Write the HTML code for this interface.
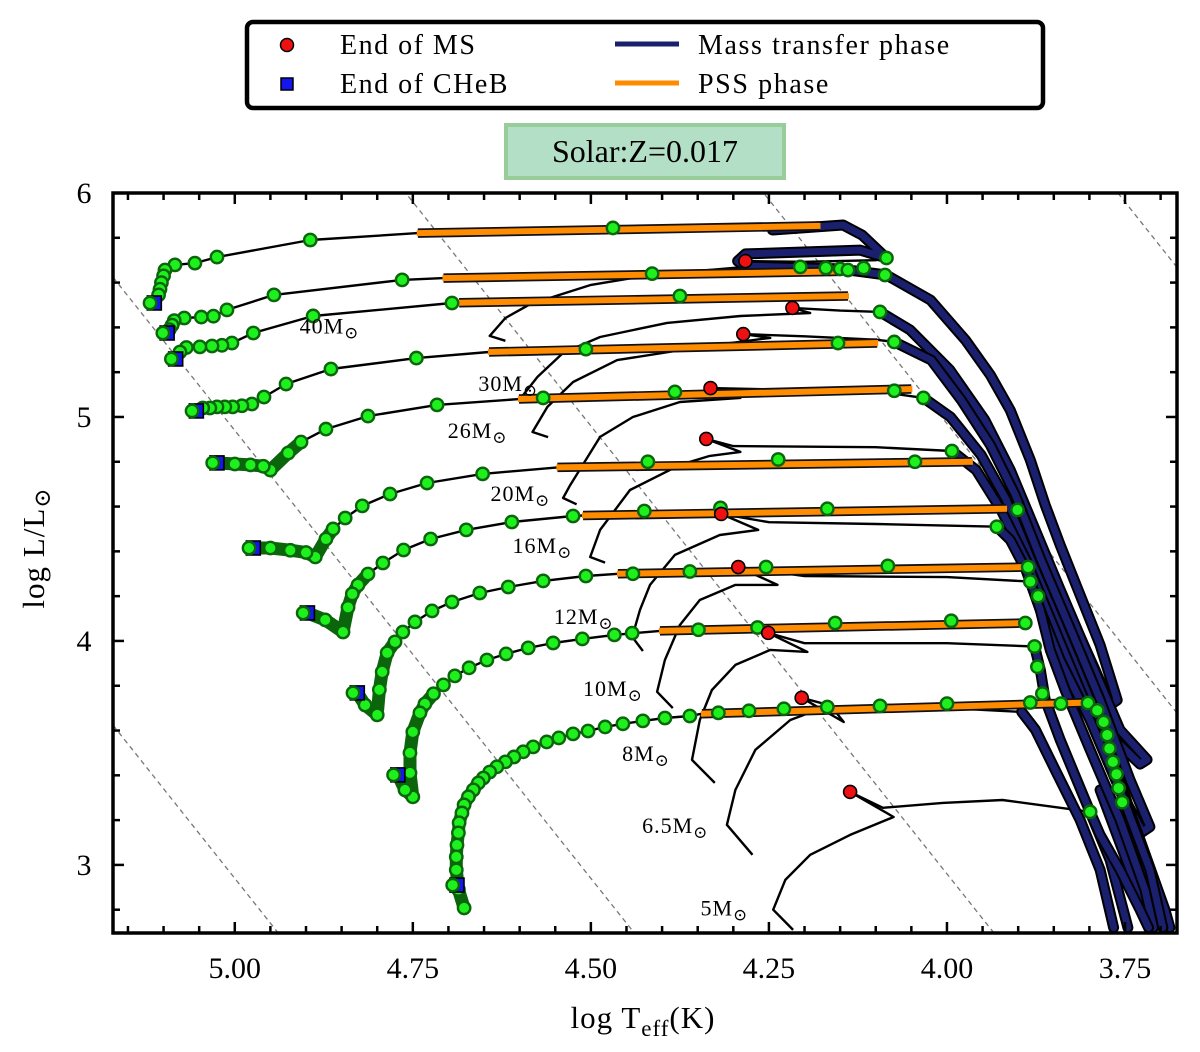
<!DOCTYPE html>
<html><head><meta charset="utf-8"><style>
html,body{margin:0;padding:0;background:#fff;overflow:hidden;width:1200px;height:1052px;}
svg{display:block;font-family:"Liberation Serif","DejaVu Serif",serif;}
</style></head><body>
<svg id="chart" width="1200" height="1052" viewBox="0 0 1200 1052" xmlns="http://www.w3.org/2000/svg">
<defs><clipPath id="clip"><rect x="113" y="193" width="1064" height="740"/></clipPath></defs>
<g id="legend">
<rect x="247" y="22" width="796" height="86" rx="6" fill="#fff" stroke="#000" stroke-width="4.5"/>
<g><circle cx="287" cy="45" r="6.5" fill="#ee1111" stroke="#000" stroke-width="1.5"/><text x="340" y="54" font-size="28" letter-spacing="1.5">End of MS</text></g>
<g><rect x="281" y="78" width="12" height="12" fill="#1515ee" stroke="#000" stroke-width="1.5"/><text x="340" y="93" font-size="28" letter-spacing="1.5">End of CHeB</text></g>
<g><line x1="615" y1="44" x2="679" y2="44" stroke="#1a1f6e" stroke-width="5"/><text x="698" y="54" font-size="28" letter-spacing="1.6">Mass transfer phase</text></g>
<g><line x1="615" y1="83" x2="679" y2="83" stroke="#ff8c00" stroke-width="5"/><text x="698" y="93" font-size="28" letter-spacing="1.6">PSS phase</text></g>
</g>
<g>
<rect x="506" y="125" width="278" height="53" fill="#b3dfc6" stroke="#98cc98" stroke-width="4"/>
<text x="645" y="162" font-size="32" text-anchor="middle">Solar:Z=0.017</text></g>
<g id="plot" clip-path="url(#clip)"></g>
<rect x="113" y="193" width="1064" height="740" fill="none" stroke="#000" stroke-width="3.5"/>
<g id="axes"></g>
<text x="643" y="1028" font-size="31" text-anchor="middle" letter-spacing="1">log T<tspan font-size="23" dy="8">eff</tspan><tspan dy="-8">(K)</tspan></text>
<text transform="translate(44,548) rotate(-90)" font-size="31" text-anchor="middle" letter-spacing="1">log L/L<tspan font-size="23" dy="6">⊙</tspan></text>
</svg>
<script>
// ---- data (log Teff, log L) ----
const xTicks = [5.00, 4.75, 4.50, 4.25, 4.00, 3.75];
const xTickLabels = ["5.00","4.75","4.50","4.25","4.00","3.75"];
const yTicks = [6, 5, 4, 3];
const yTickLabels = ["6","5","4","3"];
const radiusLineOffsets = [-9.04, -11.03, -13.04, -15.06, -17.06];
const massNames = ["40M","30M","26M","20M","16M","12M","10M","8M","6.5M","5M"];
const labelPos = [[4.825,5.40],[4.574,5.143],[4.617,4.933],[4.557,4.652],[4.526,4.42],[4.468,4.103],[4.427,3.78],[4.389,3.49],[4.335,3.17],[4.279,2.80]];
const msTracks = [
 [[4.642,5.362],[4.620,5.442],[4.585,5.504],[4.501,5.589],[4.417,5.634],[4.248,5.679]],
 [[4.595,5.098],[4.575,5.179],[4.539,5.286],[4.487,5.357],[4.393,5.420],[4.290,5.451],[4.192,5.464]],
 [[4.582,4.933],[4.561,5.045],[4.525,5.156],[4.463,5.254],[4.346,5.313],[4.248,5.353]],
 [[4.539,4.638],[4.529,4.696],[4.487,4.911],[4.441,5.0],[4.375,5.067],[4.290,5.085]],
 [[4.501,4.375],[4.487,4.496],[4.445,4.674],[4.375,4.786],[4.333,4.826],[4.290,4.844]],
 [[4.442,4.018],[4.431,4.139],[4.417,4.25],[4.382,4.384],[4.319,4.473],[4.265,4.496]],
 [[4.407,3.773],[4.396,3.915],[4.375,4.071],[4.347,4.183],[4.297,4.250],[4.238,4.25]],
 [[4.358,3.469],[4.347,3.647],[4.330,3.781],[4.297,3.893],[4.248,3.96],[4.196,3.951]],
 [[4.309,3.179],[4.297,3.335],[4.269,3.514],[4.220,3.647],[4.164,3.714],[4.145,3.638]],
 [[4.244,2.80],[4.227,2.933],[4.192,3.045],[4.136,3.134],[4.075,3.214]]
];
const zamsTails = [[4.620,5.34],[4.570,5.07],[4.560,4.91],[4.520,4.61],[4.480,4.35],[4.427,3.955],[4.385,3.70],[4.326,3.366],[4.273,3.045],[4.216,2.71]];
const redDots = [[4.283,5.696],[4.217,5.487],[4.286,5.370],[4.332,5.129],[4.338,4.902],[4.317,4.567],[4.293,4.330],[4.251,4.036],[4.204,3.746],[4.136,3.326]];
const crossings = [
 [[4.283,5.696],[4.20,5.693],[4.10,5.70],[4.085,5.71]],
 [[4.217,5.487],[4.15,5.475],[4.094,5.469]],
 [[4.286,5.370],[4.20,5.36],[4.10,5.345],[4.074,5.335]],
 [[4.332,5.129],[4.20,5.12],[4.10,5.115],[4.033,5.085]],
 [[4.338,4.902],[4.30,4.87],[4.10,4.865],[3.993,4.848]],
 [[4.317,4.567],[4.25,4.53],[4.10,4.522],[3.93,4.51]],
 [[4.293,4.330],[4.20,4.29],[4.0,4.285],[3.883,4.265]],
 [[4.251,4.036],[4.20,3.99],[4.0,3.99],[3.877,3.975]],
 [[4.204,3.746],[4.15,3.70],[4.0,3.70],[3.895,3.683]],
 [[4.136,3.326],[4.09,3.255],[4.006,3.277],[3.922,3.29],[3.799,3.237]]
];
const navyPaths = [
 [[4.245,5.835],[4.146,5.857],[4.119,5.812],[4.085,5.71],[4.122,5.745],[4.283,5.728],[4.294,5.696],[4.283,5.674],[4.150,5.661],[4.085,5.634],[4.023,5.522],[3.974,5.343],[3.939,5.187],[3.911,5.030],[3.883,4.808],[3.862,4.607],[3.841,4.428],[3.813,4.205],[3.785,3.982],[3.761,3.736],[3.771,3.714],[3.792,3.870],[3.827,4.116],[3.862,4.362]],
 [[4.094,5.469],[4.052,5.389],[3.996,5.21],[3.947,4.987],[3.911,4.763],[3.876,4.495],[3.841,4.228],[3.799,3.915],[3.757,3.603],[3.719,3.47],[3.729,3.45],[3.764,3.558],[3.813,3.87]],
 [[4.074,5.335],[4.022,5.254],[3.980,5.076],[3.939,4.875],[3.904,4.652],[3.868,4.362],[3.826,4.049],[3.785,3.737],[3.743,3.38],[3.715,3.17],[3.726,3.147],[3.757,3.335],[3.799,3.648]],
 [[4.033,5.085],[3.995,5.0],[3.952,4.83],[3.917,4.631],[3.882,4.362],[3.84,4.049],[3.799,3.737],[3.757,3.38],[3.722,3.02],[3.715,2.812],[3.726,2.799],[3.743,2.978],[3.785,3.335]],
 [[3.993,4.848],[3.959,4.763],[3.924,4.585],[3.889,4.362],[3.854,4.094],[3.813,3.782],[3.771,3.47],[3.729,3.112],[3.694,2.8],[3.687,2.72]],
 [[3.93,4.51],[3.911,4.451],[3.889,4.317],[3.869,4.138],[3.841,3.915],[3.799,3.647],[3.757,3.335],[3.715,2.978],[3.697,2.72]],
 [[3.883,4.265],[3.869,4.138],[3.855,3.96],[3.834,3.78],[3.799,3.514],[3.757,3.201],[3.722,2.889],[3.710,2.72]],
 [[3.877,3.975],[3.869,3.871],[3.862,3.738],[3.841,3.558],[3.806,3.29],[3.771,3.022],[3.746,2.72]],
 [[3.895,3.683],[3.876,3.604],[3.848,3.424],[3.813,3.201],[3.785,2.978],[3.766,2.72]],
 [[3.799,3.237],[3.785,3.134],[3.757,2.978],[3.729,2.80],[3.717,2.72]]
];
const orangeSegs = [
 [4.743,5.821,4.179,5.853],[4.707,5.62,4.150,5.65],[4.685,5.51,4.139,5.54],[4.643,5.29,4.098,5.33],[4.601,5.08,4.05,5.125],
 [4.547,4.775,3.965,4.80],[4.511,4.56,3.917,4.59],[4.462,4.30,3.886,4.33],[4.403,4.045,3.89,4.08],[4.344,3.675,3.80,3.725]
];
const loopPaths = [
 [[4.743,5.821],[4.894,5.790],[5.025,5.714],[5.056,5.687],[5.084,5.679],[5.098,5.656],[5.100,5.63],[5.103,5.60],[5.105,5.57],[5.107,5.545],[5.113,5.509]],
 [[4.707,5.62],[4.765,5.612],[4.945,5.545],[5.011,5.478],[5.030,5.45],[5.047,5.446],[5.071,5.442],[5.085,5.43],[5.088,5.41],[5.092,5.39],[5.095,5.375]],
 [[4.685,5.51],[4.695,5.509],[4.890,5.451],[4.974,5.375],[5.004,5.330],[5.018,5.32],[5.032,5.317],[5.049,5.313],[5.068,5.31],[5.077,5.29],[5.083,5.259]],
 [[4.643,5.29],[4.745,5.263],[4.865,5.214],[4.928,5.147],[4.959,5.089],[4.976,5.058],[4.99,5.05],[5.003,5.045],[5.014,5.045],[5.025,5.045],[5.035,5.04],[5.045,5.04],[5.054,5.027]],
 [[4.601,5.08],[4.716,5.054],[4.813,5.004],[4.872,4.946],[4.907,4.888],[4.925,4.839],[4.950,4.763],[4.96,4.78],[4.978,4.786],[5.0,4.79],[5.025,4.795]],
 [[4.547,4.775],[4.652,4.746],[4.730,4.705],[4.782,4.656],[4.821,4.603],[4.845,4.549],[4.862,4.5],[4.872,4.455],[4.887,4.375],[4.90,4.395],[4.922,4.405],[4.95,4.415],[4.974,4.415]],
 [[4.511,4.56],[4.525,4.558],[4.611,4.531],[4.675,4.496],[4.725,4.455],[4.763,4.406],[4.792,4.348],[4.813,4.299],[4.827,4.25],[4.835,4.21],[4.841,4.15],[4.848,4.040],[4.873,4.094],[4.898,4.125]],
 [[4.462,4.30],[4.507,4.290],[4.567,4.268],[4.616,4.241],[4.656,4.214],[4.695,4.174],[4.723,4.134],[4.747,4.085],[4.764,4.040],[4.775,3.996],[4.786,3.947],[4.793,3.862],[4.797,3.782],[4.800,3.670],[4.817,3.714],[4.828,3.768]],
 [[4.403,4.045],[4.467,4.027],[4.512,4.009],[4.553,3.991],[4.588,3.969],[4.619,3.942],[4.646,3.915],[4.671,3.880],[4.691,3.844],[4.707,3.804],[4.721,3.764],[4.733,3.719],[4.740,3.679],[4.750,3.594],[4.754,3.500],[4.754,3.411],[4.750,3.304],[4.761,3.335],[4.771,3.402]],
 [[4.344,3.675],[4.361,3.665],[4.396,3.656],[4.427,3.643],[4.455,3.630],[4.480,3.616],[4.504,3.598],[4.525,3.585],[4.545,3.567],[4.562,3.549],[4.581,3.527],[4.595,3.505],[4.608,3.482],[4.620,3.460],[4.632,3.438],[4.642,3.415],[4.651,3.388],[4.658,3.366],[4.665,3.335],[4.672,3.304],[4.678,3.268],[4.681,3.232],[4.685,3.188],[4.686,3.143],[4.688,3.089],[4.689,3.036],[4.689,2.978],[4.686,2.89],[4.678,2.808],[4.688,2.91]]
];
const denseFrom = [99,99,99,99,5,7,8,10,11,18];
const squares = [[5.113,5.509],[5.095,5.375],[5.083,5.259],[5.054,5.027],[5.025,4.795],[4.974,4.415],[4.898,4.125],[4.828,3.768],[4.771,3.402],[4.688,2.91]];
const extraDots = [
 [[4.469,5.844]],
 [[4.414,5.64],[4.206,5.670],[4.170,5.665],[4.150,5.661],[4.139,5.656],[4.117,5.665],[4.087,5.634],[4.085,5.710]],
 [[4.375,5.540],[4.094,5.469]],
 [[4.507,5.303],[4.153,5.33],[4.074,5.335]],
 [[4.567,5.085],[4.382,5.112],[4.074,5.117],[4.033,5.085]],
 [[4.42,4.80],[4.237,4.81],[4.045,4.80],[3.993,4.848]],
 [[4.425,4.58],[4.318,4.594],[4.168,4.59],[3.901,4.585],[3.93,4.51]],
 [[4.441,4.30],[4.361,4.31],[4.254,4.33],[4.083,4.335],[3.886,4.33],[3.883,4.265],[3.872,4.20]],
 [[4.442,4.035],[4.349,4.05],[4.266,4.06],[4.157,4.08],[3.994,4.09],[3.89,4.08],[3.877,3.975],[3.873,3.885],[3.866,3.765]],
 [[4.321,3.679],[4.278,3.688],[4.229,3.697],[4.168,3.705],[4.094,3.71],[4.0,3.72],[3.883,3.725],[3.84,3.72],[3.802,3.723],[3.789,3.69],[3.780,3.638],[3.775,3.58],[3.772,3.52],[3.767,3.46],[3.762,3.405],[3.759,3.343],[3.754,3.28],[3.799,3.237]]
];
// ---- axes ----
const X0=113, X1=1177, Y0=193, Y1=933, TMAX=5.171, TMIN=3.677, LMIN=2.696, LMAX=6.0;
const X = t => X0 + (TMAX - t) / (TMAX - TMIN) * (X1 - X0);
const Y = l => Y0 + (LMAX - l) / (LMAX - LMIN) * (Y1 - Y0);
const NS="http://www.w3.org/2000/svg";
const plot=document.getElementById('plot'), axes=document.getElementById('axes');
function mk(tag, attrs, parent){const e=document.createElementNS(NS,tag);for(const k in attrs)e.setAttribute(k,attrs[k]);parent.appendChild(e);return e;}
const pts = arr => arr.map(p=>X(p[0]).toFixed(1)+','+Y(p[1]).toFixed(1)).join(' ');

// radius lines (L = 4T + c), clipped analytically to the plot box
function lineInBox(c){
  const cand=[];
  [TMAX,TMIN].forEach(t=>{const l=4*t+c; if(l>=LMIN&&l<=LMAX) cand.push([t,l]);});
  [LMIN,LMAX].forEach(l=>{const t=(l-c)/4; if(t>=TMIN&&t<=TMAX) cand.push([t,l]);});
  return cand;
}
radiusLineOffsets.forEach((c,i)=>{
  const seg=lineInBox(c); if(seg.length<2) return;
  const l=mk('line',{x1:X(seg[0][0]),y1:Y(seg[0][1]),x2:X(seg[1][0]),y2:Y(seg[1][1]),stroke:'#777','stroke-width':1.3,'stroke-dasharray':'5,4'},plot);
  
  
});
msTracks.forEach((tr,i)=>{
  const g=mk('g',{},plot);
  
  
  mk('polyline',{points:pts([zamsTails[i]].concat(tr).concat([redDots[i]])),fill:'none',stroke:'#000','stroke-width':2.4,'stroke-linejoin':'round'},g);
  mk('polyline',{points:pts(crossings[i]),fill:'none',stroke:'#000','stroke-width':2.4,'stroke-linejoin':'round'},g);
});
navyPaths.forEach((p,i)=>{
  const g=mk('g',{},plot);
  
  
  mk('polyline',{points:pts(p),fill:'none',stroke:'#000','stroke-width':11,'stroke-linejoin':'round','stroke-linecap':'round'},g);
  mk('polyline',{points:pts(p),fill:'none',stroke:'#1a1f6e','stroke-width':7,'stroke-linejoin':'round','stroke-linecap':'round'},g);
});
loopPaths.forEach((p,i)=>{
  const l=mk('polyline',{points:pts(p),fill:'none',stroke:'#000','stroke-width':2.4,'stroke-linejoin':'round'},plot);
  
  
});
orangeSegs.forEach((s,i)=>{
  const g=mk('g',{},plot);
  
  
  mk('line',{x1:X(s[0]),y1:Y(s[1]),x2:X(s[2]),y2:Y(s[3]),stroke:'#111','stroke-width':9.5},g);
  mk('line',{x1:X(s[0])-1,y1:Y(s[1]),x2:X(s[2])+1,y2:Y(s[3]),stroke:'#ff8c00','stroke-width':6},g);
});
loopPaths.forEach((p,i)=>{
  if(denseFrom[i]<p.length){
    const d=mk('polyline',{points:pts(p.slice(denseFrom[i]-1)),fill:'none',stroke:'#0b650b','stroke-width':13,'stroke-linejoin':'round','stroke-linecap':'round'},plot);
    
    
  }
});
function dot(p,name){const c=mk('circle',{cx:X(p[0]),cy:Y(p[1]),r:6.2,fill:'#1ef01e',stroke:'#0b650b','stroke-width':2.4},plot);
  
  }
loopPaths.forEach((p,i)=>{p.slice(1).forEach(q=>dot(q,'green-dot-'+i));});
extraDots.forEach((p,i)=>{p.forEach(q=>dot(q,'green-dot-'+i));});
squares.forEach((s,i)=>{
  const r=mk('rect',{x:X(s[0])-7,y:Y(s[1])-7,width:14,height:14,fill:'#1515ee',stroke:'#000','stroke-width':1.6},plot);
  
  
  dot([s[0]+0.006,s[1]],'green-dot-'+i);
});
redDots.forEach((s,i)=>{
  const c=mk('circle',{cx:X(s[0]),cy:Y(s[1]),r:6.5,fill:'#ee1111',stroke:'#000','stroke-width':1.6},plot);
  
  
});
labelPos.forEach((p,i)=>{
  const t=mk('text',{x:X(p[0]),y:Y(p[1])+6,'font-size':22,'text-anchor':'end','letter-spacing':1},plot);
  
  
  t.textContent=massNames[i];
  const s=mk('tspan',{'font-size':17,dy:5},t); s.textContent='⊙';
});
for(let k=0;k<=32;k++){const t=5.15-0.05*k; if(t<TMIN) break;
  const major=Math.abs((t*100)%25)<0.5||Math.abs((t*100)%25-25)<0.5; const len=major?11:7;
  mk('line',{x1:X(t),y1:Y1,x2:X(t),y2:Y1-len,stroke:'#000','stroke-width':2.5},axes);
  mk('line',{x1:X(t),y1:Y0,x2:X(t),y2:Y0+len,stroke:'#000','stroke-width':2.5},axes);}
for(let k=0;k<=20;k++){const l=6-0.2*k; if(l<LMIN) break;
  const major=Math.abs(l-Math.round(l))<0.01; const len=major?11:7;
  mk('line',{x1:X0,y1:Y(l),x2:X0+len,y2:Y(l),stroke:'#000','stroke-width':2.5},axes);
  mk('line',{x1:X1,y1:Y(l),x2:X1-len,y2:Y(l),stroke:'#000','stroke-width':2.5},axes);}
xTicks.forEach((t,i)=>{const e=mk('text',{x:X(t),y:978,'font-size':30,'text-anchor':'middle'},axes);
  
  
  e.textContent=xTickLabels[i];});
yTicks.forEach((l,i)=>{const e=mk('text',{x:84,y:Y(l)+10,'font-size':30,'text-anchor':'middle'},axes);
  
  
  e.textContent=yTickLabels[i];});
</script>
</body></html>
